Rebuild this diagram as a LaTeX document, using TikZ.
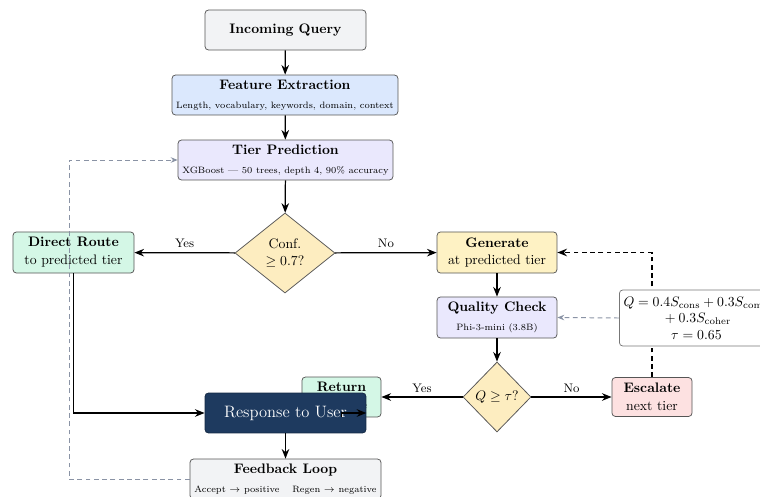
\documentclass[tikz,border=0pt]{standalone}
\usepackage{amsmath}
\usetikzlibrary{shapes.geometric,arrows.meta}
\definecolor{cgray}{HTML}{F2F3F5}
\definecolor{cblue}{HTML}{DBE8FD}
\definecolor{clav}{HTML}{EAE8FD}
\definecolor{cmint}{HTML}{D4F7E6}
\definecolor{cyel}{HTML}{FEF2C4}
\definecolor{cdia}{HTML}{FDEDC0}
\definecolor{cpink}{HTML}{FDE1E1}
\definecolor{cnavy}{HTML}{1E3A5F}
\definecolor{cborder}{HTML}{555555}
\definecolor{cdash}{HTML}{8A93A5}
\newcommand{\subfont}{\fontsize{6.7pt}{8pt}\selectfont}
\tikzset{
  box/.style={draw=cborder, line width=0.55pt, rounded corners=2.5pt, align=center, inner sep=2pt, font=\normalsize},
  dia/.style={draw=cborder, line width=0.55pt, diamond, fill=cdia, inner sep=0pt, align=center, aspect=1},
  arr/.style={-{Stealth[length=7pt,width=5.5pt]}, line width=0.9pt, black},
  garr/.style={-{Stealth[length=5pt,width=4pt]}, line width=0.7pt, cdash, dashed, dash pattern=on 3.5pt off 2.5pt},
  darr/.style={-{Stealth[length=7pt,width=5.5pt]}, line width=0.9pt, black, dash pattern=on 3.5pt off 2.5pt},
  lab/.style={font=\small, above, inner sep=3pt}
}
\begin{document}
\begin{tikzpicture}[x=0.7262pt, y=-0.7262pt]
\useasboundingbox (0,0) rectangle (760,497);
% nodes
\node[box, fill=cgray, minimum width=116.9pt, minimum height=29pt] (query) at (285.5,30) {\bfseries Incoming Query};
\node[box, fill=cblue, minimum width=164.1pt, minimum height=29pt] (feature) at (285,95) {{\bfseries Feature Extraction}\\[1.5pt]{\subfont Length, vocabulary, keywords, domain, context}};
\node[box, fill=clav, minimum width=156.1pt, minimum height=29pt] (tier) at (285.5,160) {{\bfseries Tier Prediction}\\[1.5pt]{\subfont XGBoost --- 50 trees, depth 4, 90\% accuracy}};
\node[dia, minimum width=72.6pt, minimum height=58.1pt] (conf) at (285,253) {Conf.\\$\geq 0.7$?};
\node[box, fill=cmint, minimum width=87.9pt, minimum height=29.8pt] (direct) at (73.5,252.5) {{\bfseries Direct Route}\\[1pt]to predicted tier};
\node[box, fill=cyel, minimum width=87.1pt, minimum height=29.8pt] (generate) at (497,252.5) {{\bfseries Generate}\\[1pt]at predicted tier};
\node[box, fill=clav, minimum width=87.1pt, minimum height=29.8pt] (quality) at (497,317.5) {{\bfseries Quality Check}\\[2pt]{\subfont Phi-3-mini (3.8B)}};
\node[dia, minimum width=49.4pt, minimum height=50.8pt] (qdia) at (497,397) {$Q \geq \tau$?};
\node[box, fill=cpink, minimum width=58.1pt, minimum height=28.3pt] (escalate) at (652,397) {{\bfseries Escalate}\\[1pt]next tier};
\node[box, fill=cmint, minimum width=57.4pt, minimum height=29pt] (return) at (341.5,397) {{\bfseries Return}\\[1pt]response};
\node[box, fill=cnavy, draw=cnavy!70!black, text=white, minimum width=116.9pt, minimum height=29pt] (response) at (285.5,413) {\large Response to User};
\node[box, fill=cgray, minimum width=138.7pt, minimum height=29pt] (feedback) at (285.5,479) {{\bfseries Feedback Loop}\\[2pt]{\subfont Accept $\rightarrow$ positive\quad\ Regen $\rightarrow$ negative}};
% connectors
\draw[arr] (query) -- (feature);
\draw[arr] (feature) -- (tier);
\draw[arr] (tier) -- (conf);
\draw[arr] (conf) -- node[lab]{Yes} (direct);
\draw[arr] (conf) -- node[lab]{No} (generate);
\draw[arr] (generate) -- (quality);
\draw[arr] (quality) -- (qdia);
\draw[arr] (qdia) -- node[lab]{Yes} (return);
\draw[arr] (qdia) -- node[lab]{No} (escalate);
\draw[arr] (direct) |- (response);
\draw[arr] (return) |- (response);
\draw[arr] (response) -- (feedback);
\draw[darr] (escalate.north) |- (generate.east);
\coordinate (fbcorner) at (69,479);
\draw[garr] (feedback.west) -- (fbcorner) |- (tier.west);
% formula box
\node[box, fill=white, draw=cborder!80, anchor=west, inner sep=3pt, minimum height=40.7pt] (formula) at (619,318) {$Q = 0.4S_{\text{cons}} + 0.3S_{\text{comp}}$\\${}+ 0.3S_{\text{coher}}$\\$\tau = 0.65$};
\draw[garr] (formula.west) -- (quality.east);
\end{tikzpicture}
\end{document}
